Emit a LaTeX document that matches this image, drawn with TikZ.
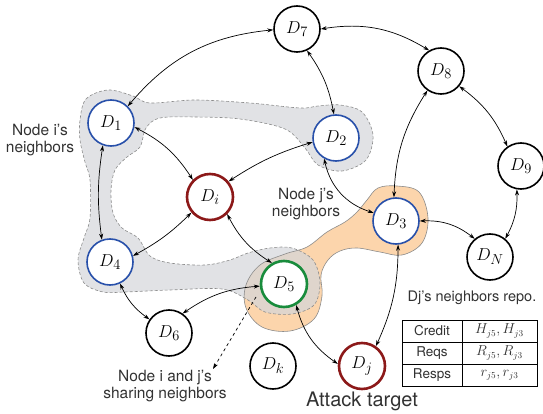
\documentclass[tikz,border=0pt]{standalone}
\usepackage{fontspec}
\setmainfont{TeX Gyre Heros}
\usetikzlibrary{arrows.meta}
\definecolor{blueN}{RGB}{40,80,170}
\definecolor{redN}{RGB}{140,25,25}
\definecolor{greenN}{RGB}{25,140,60}
\definecolor{grayF}{RGB}{212,214,218}
\definecolor{orangeF}{RGB}{252,213,172}
\definecolor{txt}{RGB}{50,50,50}
\begin{document}
\begin{tikzpicture}[x=1pt,y=-1pt,
  nd/.style={circle, draw=black, line width=1.6pt, minimum size=46pt, inner sep=0pt, fill=white, font=\fontsize{19}{22}\selectfont},
  bl/.style={nd, draw=blueN},
  rd/.style={nd, draw=redN, line width=2.6pt},
  gr/.style={nd, draw=greenN, line width=2.6pt},
  conn/.style={{Stealth[length=6pt,width=4pt]}-{Stealth[length=6pt,width=4pt]}, line width=0.7pt},
  lbl/.style={font=\fontsize{15.5}{16.8}\selectfont, align=center, text=txt},
  cell/.style={draw=black, line width=0.7pt, minimum height=22pt, inner sep=0pt, font=\fontsize{13.5}{16}\selectfont, text=txt}
]
\useasboundingbox (0,0) rectangle (543,414);

\def\orangepts{(367,200) (378,188) (397,186) (419,192) (428,218) (422,243) (402,255) (380,252)
 (357,248) (340,251) (328,260) (321,275) (322,296) (314,319) (290,331) (262,327) (246,308)
 (246,285) (260,265) (285,254) (307,247) (327,232) (345,222) (357,212)}
\def\graypts{(80,120) (86,99) (108,90) (133,96) (150,103) (195,100) (250,103) (300,108)
 (318,106) (340,105) (362,112) (373,135) (366,160) (342,171) (318,165) (305,148)
 (285,129) (240,119) (195,117) (160,118) (146,128) (140,147) (127,157) (115,170) (111,190)
 (113,213) (122,228) (138,238) (150,256) (170,263) (205,265) (230,260) (248,253) (270,248) (292,248)
 (313,260) (320,283) (314,305) (292,314) (265,312) (248,300) (222,289) (170,290)
 (125,292) (103,292) (84,283) (78,260) (84,238) (90,218) (90,180) (85,162) (80,140)}

% orange blob (node j's neighbors)
\fill[orangeF] plot[smooth cycle, tension=0.6] coordinates {\orangepts};
% gray blob (node i's neighbors)
\fill[grayF, opacity=0.7] plot[smooth cycle, tension=0.55] coordinates {\graypts};
\draw[black!45, line width=0.6pt] plot[smooth cycle, tension=0.6] coordinates {\orangepts};
\draw[black!45, line width=0.6pt, dash pattern=on 3pt off 2pt] plot[smooth cycle, tension=0.55] coordinates {\graypts};

% nodes
\node[nd] (D7) at (297,29) {$D_7$};
\node[nd] (D8) at (441,71) {$D_8$};
\node[bl] (D1) at (111,123) {$D_1$};
\node[bl] (D2) at (336,138) {$D_2$};
\node[nd] (D9) at (521,166) {$D_9$};
\node[rd] (Di) at (210,197) {$D_i$};
\node[bl] (D3) at (396,221) {$D_3$};
\node[nd] (DN) at (490,257) {$D_N$};
\node[bl] (D4) at (110,262) {$D_4$};
\node[gr] (D5) at (284,284) {$D_5$};
\node[nd] (D6) at (169,333) {$D_6$};
\node[nd] (Dk) at (273,366) {$D_k$};
\node[rd] (Dj) at (362,366) {$D_j$};

% labels
\node[lbl] (li) at (40,140) {Node i's\\neighbors};
\node[lbl] (lj) at (306,204) {Node j's\\neighbors};
\node[lbl] (lij) at (165,386) {Node i and j's\\sharing neighbors};
\node[lbl, font=\fontsize{20}{24}\selectfont] (lat) at (362,401) {Attack target};
\node[lbl, font=\fontsize{14.5}{17}\selectfont] (lrepo) at (472,298) {Dj's neighbors repo.};

% table
\node[cell, minimum width=60pt] (c11) at (432,331) {Credit};
\node[cell, minimum width=75pt] (c12) at (499.5,331) {$H_{j5}, H_{j3}$};
\node[cell, minimum width=60pt] (c21) at (432,353) {Reqs};
\node[cell, minimum width=75pt] (c22) at (499.5,353) {$R_{j5}, R_{j3}$};
\node[cell, minimum width=60pt] (c31) at (432,375) {Resps};
\node[cell, minimum width=75pt] (c32) at (499.5,375) {$r_{j5}, r_{j3}$};

% connectors
\draw[conn] (D1.45) to[bend left=22] (D7.182);
\draw[conn] (D7.0) to[bend left=20] (D8.120);
\draw[conn] (D7.-65) to[bend left=12] (D2.95);
\draw[conn] (D8.-40) to[bend left=15] (D9.125);
\draw[conn] (D9.-100) to[bend left=15] (DN.50);
\draw[conn] (D3.0) to[bend left=20] (DN.130);
\draw[conn] (D8.-125) to[bend right=15] (D3.95);
\draw[conn] (D2.-120) to[bend right=30] (D3.160);
\draw[conn] (D2.190) to[bend right=8] (Di.40);
\draw[conn] (D1.-10) to[bend left=15] (Di.135);
\draw[conn] (D4.15) to[bend right=8] (Di.-140);
\draw[conn] (Di.-45) to[bend right=15] (D5.120);
\draw[conn] (D1.-110) to[bend right=8] (D4.110);
\draw[conn] (D4.-65) to[bend right=15] (D6.145);
\draw[conn] (D5.185) to[bend right=15] (D6.55);
\draw[conn] (D3.-85) to[bend left=12] (Dj.55);
\draw[conn] (D5.-60) to[bend right=20] (Dj.175);
\coordinate (ds) at (256,297);
\coordinate (de) at (213,369);
\draw[-{Stealth[length=6pt,width=4pt]}, line width=0.7pt, dashed] (ds) -- (de);
\end{tikzpicture}
\end{document}
